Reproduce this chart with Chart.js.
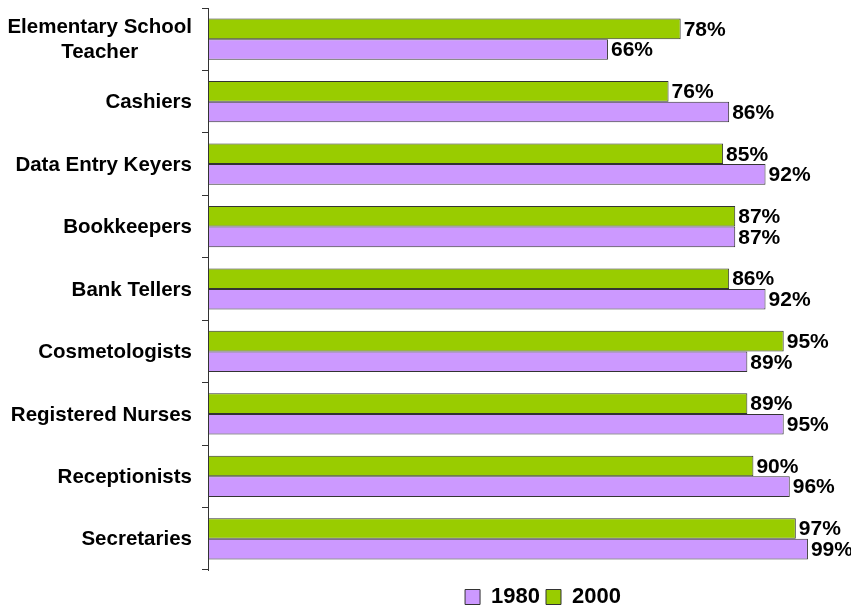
<!DOCTYPE html>
<html>
<head>
<meta charset="utf-8">
<script src="https://cdn.jsdelivr.net/npm/chart.js@4/dist/chart.umd.min.js"></script>
<style>
  html, body { margin: 0; padding: 0; background: #fff; }
  #wrap { width: 851px; height: 608px; }
</style>
</head>
<body>
<div id="wrap"><canvas id="chart"></canvas></div>
<script>
// categories, top to bottom
const occupations = [
  ["Elementary School", "Teacher"],
  "Cashiers",
  "Data Entry Keyers",
  "Bookkeepers",
  "Bank Tellers",
  "Cosmetologists",
  "Registered Nurses",
  "Receptionists",
  "Secretaries"
];
// percent women in each occupation
const pct2000 = [78, 76, 85, 87, 86, 95, 89, 90, 97];
const pct1980 = [66, 86, 92, 87, 92, 89, 95, 96, 99];

const FONT = "'Liberation Sans', Arial, Helvetica, sans-serif";

// category labels: right aligned, extra lines centred under the widest one
const catLabels = {
  id: "catLabels",
  afterDraw(chart) {
    const ctx = chart.ctx;
    const y = chart.scales.y;
    const right = y.right - 16;
    ctx.save();
    ctx.font = "bold 20.5px " + FONT;
    ctx.fillStyle = "#000";
    ctx.textBaseline = "middle";
    chart.data.labels.forEach((lab, i) => {
      const lines = Array.isArray(lab) ? lab : [lab];
      const yc = y.getPixelForTick(i) + 1;
      const lh = 25;
      const w = Math.max(...lines.map(l => ctx.measureText(l).width));
      ctx.textAlign = "center";
      lines.forEach((l, j) => {
        ctx.fillText(l, right - w / 2, yc + (j - (lines.length - 1) / 2) * lh);
      });
    });
    ctx.restore();
  }
};

// percentage at the end of each bar
const valueLabels = {
  id: "valueLabels",
  afterDatasetsDraw(chart) {
    const ctx = chart.ctx;
    ctx.save();
    ctx.font = "bold 21px " + FONT;
    ctx.fillStyle = "#000";
    ctx.textAlign = "left";
    ctx.textBaseline = "middle";
    chart.data.datasets.forEach((ds, di) => {
      chart.getDatasetMeta(di).data.forEach((bar, i) => {
        ctx.fillText(ds.data[i] + "%", bar.x + 3, bar.y + 1);
      });
    });
    ctx.restore();
  }
};

// nudge legend to where the original sits
const legendShift = {
  id: "legendShift",
  afterLayout(chart) {
    const l = chart.legend;
    const dx = 543 - (l.left + l.right) / 2;
    l.left += dx; l.right += dx;
    l.top += 10; l.bottom += 10;
  }
};

new Chart(document.getElementById("chart"), {
  type: "bar",
  data: {
    labels: occupations,
    datasets: [
      {
        label: "2000",
        data: pct2000,
        backgroundColor: "#99CC00",
        borderColor: "#333333",
        borderWidth: 1,
        borderSkipped: false
      },
      {
        label: "1980",
        data: pct1980,
        backgroundColor: "#CC99FF",
        borderColor: "#333333",
        borderWidth: 1,
        borderSkipped: false
      }
    ]
  },
  options: {
    indexAxis: "y",
    responsive: true,
    maintainAspectRatio: false,
    animation: false,
    categoryPercentage: 0.66,
    barPercentage: 1.0,
    layout: { padding: { top: 8, right: 37, left: 0, bottom: 0 } },
    scales: {
      x: {
        display: false,
        min: 0,
        max: 100
      },
      y: {
        afterFit(scale) { scale.width = 208; },
        grid: {
          display: true,
          drawOnChartArea: false,
          drawTicks: true,
          tickLength: 6,
          color: "#333333"
        },
        border: { display: true, color: "#333333" },
        ticks: { display: false }
      }
    },
    plugins: {
      legend: {
        position: "bottom",
        fullSize: false,
        reverse: true,
        labels: {
          font: { family: FONT, size: 22, weight: "bold" },
          color: "#000",
          boxWidth: 15,
          boxHeight: 15,
          padding: 6
        }
      },
      tooltip: { enabled: false }
    }
  },
  plugins: [catLabels, valueLabels, legendShift]
});
</script>
</body>
</html>
